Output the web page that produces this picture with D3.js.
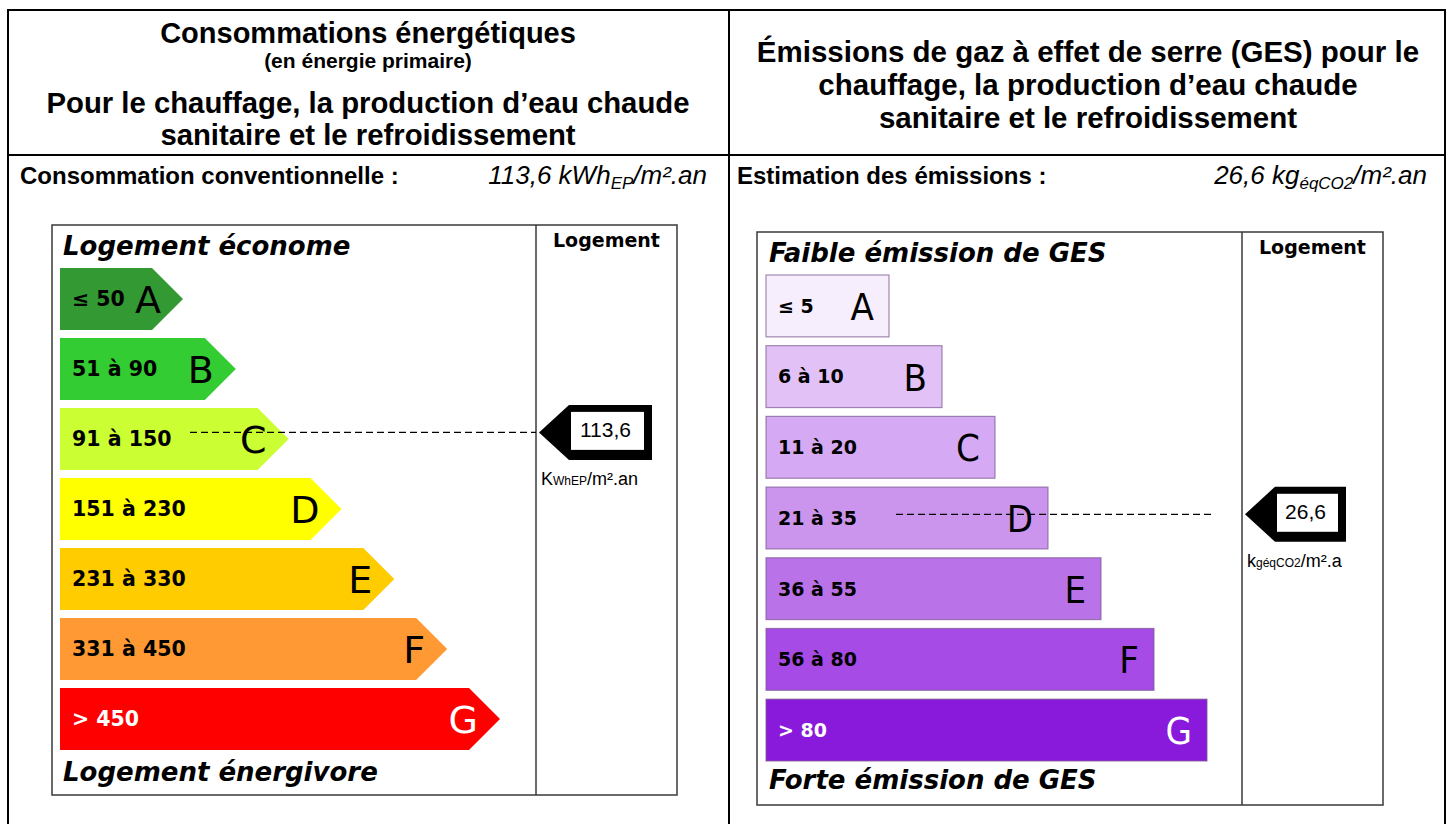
<!DOCTYPE html>
<html>
<head>
<meta charset="utf-8">
<script src="https://cdn.jsdelivr.net/npm/d3@7"></script>
<style>
  body { margin: 0; background: #fff; }
  svg { display: block; }
  .arial { font-family: "Liberation Sans", Arial, sans-serif; }
  .verdana { font-family: "DejaVu Sans", Verdana, sans-serif; }
  .cond { font-family: "DejaVu Sans Condensed", "DejaVu Sans", sans-serif; font-stretch: condensed; }
</style>
</head>
<body>
<div id="chart"></div>
<script>
(function () {
    "use strict";

    // ---- data ----------------------------------------------------
    const classes = ["A", "B", "C", "D", "E", "F", "G"];

    const energyRanges = ["≤ 50", "51 à 90", "91 à 150", "151 à 230", "231 à 330", "331 à 450", "> 450"];
    const energyLimits = [50, 90, 150, 230, 330, 450];
    const energyColors = ["#339933", "#33cc33", "#ccff33", "#ffff00", "#ffcc00", "#ff9933", "#ff0000"];
    const energyValue = 113.6;

    const gesRanges = ["≤ 5", "6 à 10", "11 à 20", "21 à 35", "36 à 55", "56 à 80", "> 80"];
    const gesLimits = [5, 10, 20, 35, 55, 80];
    const gesColors = ["#f6edfd", "#e2c2f6", "#d5a9f3", "#cb95ed", "#ba72e9", "#a64be6", "#8a1adb"];
    const gesValue = 26.6;

    const W = 1452, H = 824;
    const fmt = v => String(v).replace(".", ",");

    const svg = d3.select("#chart").append("svg")
        .attr("width", W).attr("height", H)
        .attr("viewBox", [0, 0, W, H]);

    svg.append("rect").attr("width", W).attr("height", H).attr("fill", "#fff");

    // ---- table frame ---------------------------------------------
    const T = { x0: 8, x1: 1445, mid: 729, top: 10, head: 155 };
    const frame = svg.append("g").attr("stroke", "#000").attr("stroke-width", 2);
    frame.append("line").attr("x1", T.x0 - 1).attr("x2", T.x1 + 1).attr("y1", T.top).attr("y2", T.top);
    frame.append("line").attr("x1", T.x0).attr("x2", T.x1).attr("y1", T.head).attr("y2", T.head);
    [T.x0, T.mid, T.x1].forEach(x =>
        frame.append("line").attr("x1", x).attr("x2", x).attr("y1", T.top).attr("y2", H));

    // ---- headers -------------------------------------------------
    function lines(g, cx, rows) {
        rows.forEach(r => {
            g.append("text").attr("class", "arial")
                .attr("x", cx).attr("y", r.y)
                .attr("text-anchor", "middle")
                .attr("font-weight", "bold")
                .attr("font-size", r.size)
                .text(r.t);
        });
    }
    lines(svg, 368, [
        { t: "Consommations énergétiques", y: 43, size: 29 },
        { t: "(en énergie primaire)", y: 68, size: 21 },
        { t: "Pour le chauffage, la production d’eau chaude", y: 113, size: 29.3 },
        { t: "sanitaire et le refroidissement", y: 145, size: 29.3 }
    ]);
    lines(svg, 1088, [
        { t: "Émissions de gaz à effet de serre (GES) pour le", y: 62, size: 29.5 },
        { t: "chauffage, la production d’eau chaude", y: 95, size: 29.5 },
        { t: "sanitaire et le refroidissement", y: 128, size: 29.5 }
    ]);

    // ---- second row ----------------------------------------------
    function valueRow(x, label, xr, num, unit, sub, tail) {
        svg.append("text").attr("class", "arial")
            .attr("x", x).attr("y", 184)
            .attr("font-weight", "bold").attr("font-size", 24)
            .text(label);
        const t = svg.append("text").attr("class", "arial")
            .attr("x", xr).attr("y", 184)
            .attr("text-anchor", "end")
            .attr("font-style", "italic").attr("font-size", 26);
        t.append("tspan").text(fmt(num) + " " + unit);
        t.append("tspan").attr("font-size", 17).attr("dy", 5).text(sub);
        t.append("tspan").attr("dy", -5).text(tail);
    }
    valueRow(20, "Consommation conventionnelle :", 707, energyValue, "kWh", "EP", "/m².an");
    valueRow(737, "Estimation des émissions :", 1427, gesValue, "kg", "éqCO2", "/m².an");

    // ---- scale chart ---------------------------------------------
    function drawScale(cfg) {
        const g = svg.append("g");
        const B = cfg.box;

        g.append("rect")
            .attr("x", B.x0).attr("y", B.y0)
            .attr("width", B.x1 - B.x0).attr("height", B.y1 - B.y0)
            .attr("fill", "none").attr("stroke", "#3a3a3a").attr("stroke-width", 1.5);
        g.append("line")
            .attr("x1", B.div).attr("x2", B.div).attr("y1", B.y0).attr("y2", B.y1)
            .attr("stroke", "#3a3a3a").attr("stroke-width", 1.5);

        g.append("text").attr("class", "verdana")
            .attr("x", (B.div + B.x1) / 2).attr("y", B.y0 + 22)
            .attr("text-anchor", "middle").attr("font-weight", "bold").attr("font-size", 19)
            .text("Logement");

        g.append("text").attr("class", "verdana")
            .attr("x", cfg.barLeft + 3).attr("y", cfg.topLabelY)
            .attr("font-weight", "bold").attr("font-style", "italic").attr("font-size", 26)
            .text(cfg.topLabel);
        g.append("text").attr("class", "verdana")
            .attr("x", cfg.barLeft + 3).attr("y", cfg.bottomLabelY)
            .attr("font-weight", "bold").attr("font-style", "italic").attr("font-size", 26)
            .text(cfg.bottomLabel);

        const y = d3.scaleBand().domain(classes).range(cfg.yRange).paddingInner(cfg.pad);
        const xEnd = d3.scaleLinear().domain([0, classes.length - 1]).range(cfg.xEndRange);
        const h = y.bandwidth();

        const bars = g.selectAll("g.bar").data(classes).join("g").attr("class", "bar");

        if (cfg.arrows) {
            bars.append("path")
                .attr("d", (c, i) => {
                    const t = y(c), e = xEnd(i), m = h / 2;
                    return `M${cfg.barLeft},${t}H${e - m}L${e},${t + m}L${e - m},${t + h}H${cfg.barLeft}Z`;
                })
                .attr("fill", (c, i) => cfg.colors[i]);
        } else {
            bars.append("rect")
                .attr("x", cfg.barLeft).attr("y", c => y(c))
                .attr("width", (c, i) => xEnd(i) - cfg.barLeft).attr("height", h)
                .attr("fill", (c, i) => cfg.colors[i])
                .attr("stroke", "#7a5a90").attr("stroke-opacity", 0.7).attr("stroke-width", 1.2);
        }

        bars.append("text").attr("class", "verdana")
            .attr("x", cfg.barLeft + cfg.rangeDx)
            .attr("y", c => y(c) + h / 2 + cfg.rangeSize * 0.36)
            .attr("font-weight", "bold").attr("font-size", cfg.rangeSize)
            .attr("fill", (c, i) => i === classes.length - 1 ? "#fff" : "#000")
            .text((c, i) => cfg.ranges[i]);

        bars.append("text").attr("class", cfg.letterFont)
            .attr("x", (c, i) => xEnd(i) - cfg.letterDx)
            .attr("y", c => y(c) + h / 2 + 14)
            .attr("text-anchor", "end").attr("font-size", 38)
            .attr("fill", (c, i) => i === classes.length - 1 ? "#fff" : "#000")
            .text(c => c);

        // position of the value inside its class band
        const k = d3.bisectLeft(cfg.limits, cfg.value);
        const lo = k === 0 ? 0 : cfg.limits[k - 1];
        const hi = cfg.limits[k];
        const vy = y(classes[k]) + h * (cfg.value - lo) / (hi - lo);

        g.append("line")
            .attr("x1", cfg.barLeft + 130).attr("x2", cfg.dashEnd)
            .attr("y1", vy).attr("y2", vy)
            .attr("stroke", "#000").attr("stroke-width", 1.2)
            .attr("stroke-dasharray", "7,4");

        // marker
        const tx = B.div + 3, mh = 55, mw = cfg.markerW;
        g.append("path")
            .attr("d", `M${tx},${vy}L${tx + 30},${vy - mh / 2}H${tx + mw}V${vy + mh / 2}H${tx + 30}Z`)
            .attr("fill", "#000");
        g.append("rect")
            .attr("x", tx + 32).attr("y", vy - mh / 2 + 7)
            .attr("width", mw - 40).attr("height", mh - 17)
            .attr("fill", "#fff");
        g.append("text").attr("class", "arial")
            .attr("x", tx + 32 + (mw - 40) / 2 - 2).attr("y", vy + 5)
            .attr("text-anchor", "middle").attr("font-size", 21)
            .text(fmt(cfg.value));

        const u = g.append("text").attr("class", "arial")
            .attr("x", tx + 2).attr("y", vy + mh / 2 + 25)
            .attr("font-size", 18);
        u.append("tspan").text(cfg.unit[0]);
        u.append("tspan").attr("font-size", 12).text(cfg.unit[1]);
        u.append("tspan").text(cfg.unit[2]);
    }

    drawScale({
        box: { x0: 52, y0: 225, x1: 677, y1: 795, div: 536 },
        arrows: true,
        letterFont: "verdana",
        barLeft: 60,
        yRange: [268, 750],
        pad: 0.114,
        xEndRange: [183, 500],
        colors: energyColors,
        ranges: energyRanges,
        limits: energyLimits,
        value: energyValue,
        rangeDx: 12,
        rangeSize: 20.5,
        letterDx: 22,
        topLabel: "Logement économe",
        bottomLabel: "Logement énergivore",
        topLabelY: 255,
        bottomLabelY: 781,
        dashEnd: 536,
        markerW: 113,
        unit: ["K", "WhEP", "/m².an"]
    });

    drawScale({
        box: { x0: 757, y0: 232, x1: 1383, y1: 805, div: 1242 },
        arrows: false,
        letterFont: "cond",
        barLeft: 766,
        yRange: [275, 761],
        pad: 0.125,
        xEndRange: [889, 1207],
        colors: gesColors,
        ranges: gesRanges,
        limits: gesLimits,
        value: gesValue,
        rangeDx: 12,
        rangeSize: 19,
        letterDx: 15,
        topLabel: "Faible émission de GES",
        bottomLabel: "Forte émission de GES",
        topLabelY: 262,
        bottomLabelY: 789,
        dashEnd: 1213,
        markerW: 101,
        unit: ["k", "géqCO2", "/m².a"]
    });
})();
</script>
</body>
</html>
